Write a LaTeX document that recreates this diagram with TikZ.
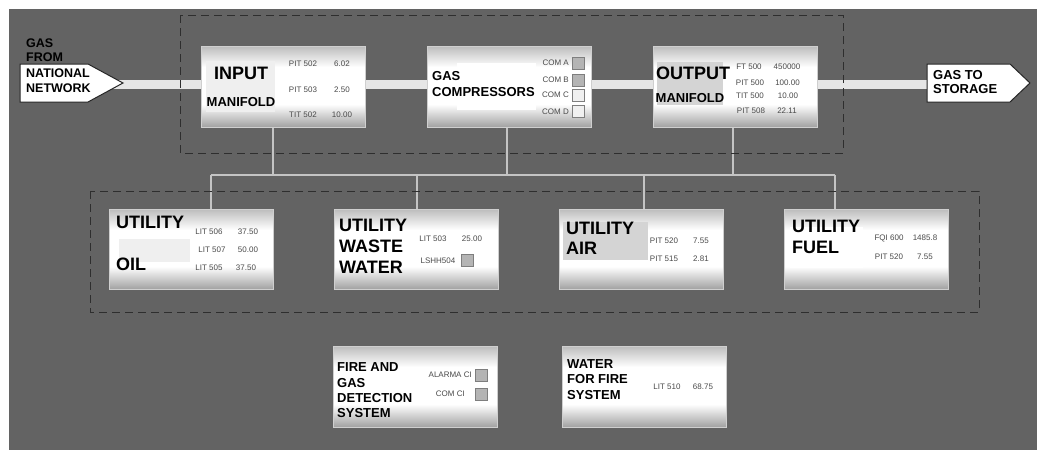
\documentclass[tikz,border=0pt]{standalone}
\usepackage{fontspec}
\setmainfont{Liberation Sans}
\usetikzlibrary{backgrounds}
\definecolor{bgc}{HTML}{636363}
\definecolor{shB}{HTML}{A2A2A2}
\definecolor{shT}{HTML}{BCBCBC}
\definecolor{pipec}{HTML}{E6E6E6}
\definecolor{wirec}{HTML}{C4C4C4}
\definecolor{grpc}{HTML}{2E2E2E}
\definecolor{panelb}{HTML}{CFCFCF}
\definecolor{lblc}{HTML}{4A4A4A}
\definecolor{chkon}{HTML}{B4B4B4}
\definecolor{chkoff}{HTML}{F0F0F0}
\definecolor{chkb}{HTML}{7E7E7E}
\definecolor{patchg}{HTML}{D4D4D4}
\definecolor{patchl}{HTML}{EFEFEF}
\pgfdeclareverticalshading{panelshade}{100bp}{color(0bp)=(shB); color(25bp)=(shB); color(39bp)=(white); color(62bp)=(white); color(75bp)=(shT); color(100bp)=(shT)}
\begin{document}
\begin{tikzpicture}[x=1pt,y=-1pt,
  panel/.style={draw=panelb, line width=1pt, shading=panelshade, inner sep=0pt, outer sep=0pt,
    anchor=north west, minimum width=164pt},
  tbig/.style={font=\bfseries\fontsize{18}{21}\selectfont, text=black, inner sep=0pt},
  tmid/.style={font=\bfseries\fontsize{13}{15}\selectfont, text=black, inner sep=0pt},
  tsml/.style={font=\bfseries\fontsize{12.5}{15}\selectfont, text=black, inner sep=0pt},
  lbl/.style={font=\fontsize{8}{9}\selectfont, text=lblc, inner sep=0pt},
  chk/.style={draw=chkb, line width=0.8pt, minimum size=12pt, inner sep=0pt},
  wire/.style={draw=wirec, line width=2pt},
  grp/.style={draw=grpc, line width=1pt, dash pattern=on 8pt off 5pt},
  pipe/.style={draw=pipec, line width=9pt},
  flag/.style={draw=black!85, line width=1pt, fill=white, line join=miter}
]
\useasboundingbox (0,0) rectangle (1037,450);
\begin{pgfonlayer}{background}
  \fill[white] (0,0) rectangle (1037,450);
  \fill[bgc] (9,9) rectangle (1037,450);
\end{pgfonlayer}

% ---- flags (gas in / out)
\draw[flag] (20,64) -- (88,64) -- (123,83) -- (88,102) -- (20,102) -- cycle;
\draw[flag] (927,64) -- (1010,64) -- (1030,83) -- (1010,102) -- (927,102) -- cycle;
\coordinate (srcIn) at (100,84.5);
\coordinate (dstIn) at (940,84.5);
\node[tsml, anchor=west] (gin1) at (26,43) {GAS};
\node[tsml, anchor=west] (gin2) at (26,57) {FROM};
\node[tsml, anchor=west] (gin3) at (26,73) {NATIONAL};
\node[tsml, anchor=west] (gin4) at (26,88) {NETWORK};
\node[tmid, anchor=west] (gout1) at (933,75) {GAS TO};
\node[tmid, anchor=west] (gout2) at (933,89) {STORAGE};

% ---- panels
\node[panel, minimum height=81pt] (in)   at (201,46) {};
\node[panel, minimum height=81pt] (cmp)  at (427,46) {};
\node[panel, minimum height=81pt] (out)  at (653,46) {};
\node[panel, minimum height=80pt] (oil)  at (109,209) {};
\node[panel, minimum height=80pt] (ww)   at (334,209) {};
\node[panel, minimum height=80pt] (air)  at (559,209) {};
\node[panel, minimum height=80pt] (fuel) at (784,209) {};
\node[panel, minimum height=81pt] (fg)   at (333,346) {};
\node[panel, minimum height=81pt] (wf)   at (562,346) {};

% ---- text patches
\fill[patchl] (206,61) rectangle (275,112);
\fill[white] (457,63) rectangle (536,110);
\fill[patchg] (657,62) rectangle (723,105);
\fill[patchl] (119,239) rectangle (190,262);
\fill[patchg] (563,222) rectangle (648,260);
\fill[white] (790,227) rectangle (863,268);

% ---- connectors, pipe, groups (behind panels)
\coordinate (busL) at (211,175);
\coordinate (busR) at (835,175);
\begin{pgfonlayer}{background}
  \draw[pipe] (srcIn) -- (dstIn);
  \draw[wire] ([xshift=-10pt]in.south) -- ([xshift=-10pt]in.south |- busL);
  \draw[wire] ([xshift=-2pt]cmp.south) -- ([xshift=-2pt]cmp.south |- busL);
  \draw[wire] ([xshift=-2pt]out.south) -- ([xshift=-2pt]out.south |- busL);
  \draw[wire] (busL) -- (busR);
  \draw[wire] (busL) -- (busL |- oil.north);
  \draw[wire] ([xshift=1pt]ww.north |- busL) -- ([xshift=1pt]ww.north);
  \draw[wire] ([xshift=3pt]air.north |- busL) -- ([xshift=3pt]air.north);
  \draw[wire] (busR) -- (busR |- fuel.north);
  \draw[grp] (180,15) rectangle (843,153);
  \draw[grp] (90,191) rectangle (979,312);
\end{pgfonlayer}

% ---- INPUT MANIFOLD
\node[tbig] (inT1) at (241,73) {INPUT};
\node[tmid] (inT2) at (241,102) {MANIFOLD};
\node[lbl] (inL1) at (303,64) {PIT 502};  \node[lbl] (inV1) at (342,64) {6.02};
\node[lbl] (inL2) at (303,90) {PIT 503};  \node[lbl] (inV2) at (342,90) {2.50};
\node[lbl] (inL3) at (303,115) {TIT 502}; \node[lbl] (inV3) at (342,115) {10.00};

% ---- GAS COMPRESSORS
\node[tmid, anchor=west] (cmT1) at (432,76) {GAS};
\node[tmid, anchor=west] (cmT2) at (432,92) {COMPRESSORS};
\node[lbl, anchor=east] (cmL1) at (569,63) {COM A};  \node[chk, fill=chkon]  (cmS1) at (578,63) {};
\node[lbl, anchor=east] (cmL2) at (569,80) {COM B};  \node[chk, fill=chkon]  (cmS2) at (578,80) {};
\node[lbl, anchor=east] (cmL3) at (569,95) {COM C};  \node[chk, fill=chkoff] (cmS3) at (578,95) {};
\node[lbl, anchor=east] (cmL4) at (569,112) {COM D}; \node[chk, fill=chkoff] (cmS4) at (578,111) {};

% ---- OUTPUT MANIFOLD
\node[tbig] (ouT1) at (693,73) {OUTPUT};
\node[tmid] (ouT2) at (690,98) {MANIFOLD};
\node[lbl] (ouL1) at (749,67) {FT 500};   \node[lbl] (ouV1) at (787,67) {450000};
\node[lbl] (ouL2) at (750,83) {PIT 500};  \node[lbl] (ouV2) at (787.5,83) {100.00};
\node[lbl] (ouL3) at (750,96) {TIT 500};  \node[lbl] (ouV3) at (788,96) {10.00};
\node[lbl] (ouL4) at (751,111) {PIT 508}; \node[lbl] (ouV4) at (787,111) {22.11};

% ---- UTILITY OIL
\node[tbig, anchor=west] (oiT1) at (116,222) {UTILITY};
\node[tbig, anchor=west] (oiT2) at (116,264) {OIL};
\node[lbl] (oiL1) at (209,232) {LIT 506}; \node[lbl] (oiV1) at (248,232) {37.50};
\node[lbl] (oiL2) at (212,250) {LIT 507}; \node[lbl] (oiV2) at (248,250) {50.00};
\node[lbl] (oiL3) at (209,268) {LIT 505}; \node[lbl] (oiV3) at (246,268) {37.50};

% ---- UTILITY WASTE WATER
\node[tbig, anchor=west] (wwT1) at (339,225) {UTILITY};
\node[tbig, anchor=west] (wwT2) at (339,246) {WASTE};
\node[tbig, anchor=west] (wwT3) at (339,267) {WATER};
\node[lbl] (wwL1) at (433,239) {LIT 503}; \node[lbl] (wwV1) at (472,239) {25.00};
\node[lbl] (wwL2) at (438,261) {LSHH504}; \node[chk, fill=chkon] (wwS1) at (467,260.5) {};

% ---- UTILITY AIR
\node[tbig, anchor=west] (arT1) at (566,228) {UTILITY};
\node[tbig, anchor=west] (arT2) at (566,248) {AIR};
\node[lbl] (arL1) at (664,241) {PIT 520}; \node[lbl] (arV1) at (701,241) {7.55};
\node[lbl] (arL2) at (664,259) {PIT 515}; \node[lbl] (arV2) at (701,259) {2.81};

% ---- UTILITY FUEL
\node[tbig, anchor=west] (fuT1) at (792,226) {UTILITY};
\node[tbig, anchor=west] (fuT2) at (792,247) {FUEL};
\node[lbl] (fuL1) at (889,238) {FQI 600}; \node[lbl] (fuV1) at (925,238) {1485.8};
\node[lbl] (fuL2) at (889,257) {PIT 520}; \node[lbl] (fuV2) at (925,257) {7.55};

% ---- FIRE AND GAS DETECTION SYSTEM
\node[tmid, anchor=west] (fgT1) at (337,367) {FIRE AND};
\node[tmid, anchor=west] (fgT2) at (337,383) {GAS};
\node[tmid, anchor=west] (fgT3) at (337,398) {DETECTION};
\node[tmid, anchor=west] (fgT4) at (337,413) {SYSTEM};
\node[lbl, anchor=east] (fgL1) at (472,375) {ALARMA CI}; \node[chk, fill=chkon] (fgS1) at (481,375.5) {};
\node[lbl, anchor=east] (fgL2) at (465,394) {COM CI};    \node[chk, fill=chkon] (fgS2) at (481,394) {};

% ---- WATER FOR FIRE SYSTEM
\node[tmid, anchor=west] (wfT1) at (567,364) {WATER};
\node[tmid, anchor=west] (wfT2) at (567,379) {FOR FIRE};
\node[tmid, anchor=west] (wfT3) at (567,395) {SYSTEM};
\node[lbl] (wfL1) at (667,387) {LIT 510}; \node[lbl] (wfV1) at (703,387) {68.75};
\end{tikzpicture}
\end{document}
